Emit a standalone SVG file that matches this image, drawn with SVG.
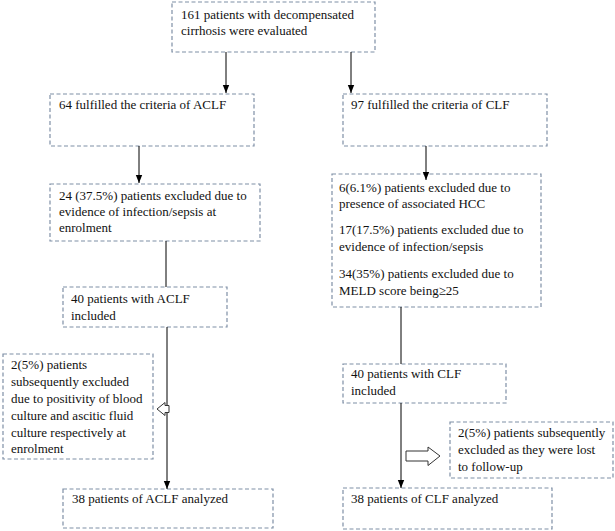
<svg xmlns="http://www.w3.org/2000/svg" width="615" height="531" viewBox="0 0 615 531">
<defs>
<marker id="ah" viewBox="0 0 8 8" refX="8" refY="4" markerWidth="8" markerHeight="8" markerUnits="userSpaceOnUse" orient="auto">
<path d="M0,0.8 L8,4 L0,7.2 Z" fill="#000"/>
</marker>
<style>
.box{fill:#fff;stroke:#7f8fa6;stroke-width:1.2;stroke-dasharray:4 2.5}
text{font-family:'Liberation Serif','DejaVu Serif','Times New Roman',serif;font-size:13px;fill:#111}
.ln{stroke:#000;stroke-width:1;fill:none}
.hol{fill:#fff;stroke:#333;stroke-width:1}
</style>
</defs>
<rect width="615" height="531" fill="#fff"/>
<g id="n1">
<rect class="box" x="172" y="2" width="203" height="50"/>
<text x="181" y="19">161 patients with decompensated</text>
<text x="181" y="35">cirrhosis were evaluated</text>
</g>
<g id="n2">
<rect class="box" x="50" y="94" width="204" height="52"/>
<text x="59" y="109">64 fulfilled the criteria of ACLF</text>
</g>
<g id="n3">
<rect class="box" x="343" y="94" width="204" height="52"/>
<text x="351" y="109">97 fulfilled the criteria of CLF</text>
</g>
<g id="n4">
<rect class="box" x="50" y="184" width="210" height="57"/>
<text x="59" y="200">24 (37.5%) patients excluded due to</text>
<text x="59" y="216">evidence of infection/sepsis at</text>
<text x="59" y="232">enrolment</text>
</g>
<g id="n5">
<rect class="box" x="332" y="174" width="209" height="133"/>
<text x="339" y="192">6(6.1%) patients excluded due to</text>
<text x="339" y="208">presence of associated HCC</text>
<text x="339" y="234">17(17.5%) patients excluded due to</text>
<text x="339" y="251">evidence of infection/sepsis</text>
<text x="339" y="278">34(35%) patients excluded due to</text>
<text x="339" y="295">MELD score being≥25</text>
</g>
<g id="n6">
<rect class="box" x="63" y="287" width="164" height="40"/>
<text x="71" y="303">40 patients with ACLF</text>
<text x="71" y="320">included</text>
</g>
<g id="n7">
<rect class="box" x="3" y="354" width="150" height="105"/>
<text x="11" y="369">2(5%) patients</text>
<text x="11" y="386">subsequently excluded</text>
<text x="11" y="403">due to positivity of blood</text>
<text x="11" y="420">culture and ascitic fluid</text>
<text x="11" y="437">culture respectively at</text>
<text x="11" y="453">enrolment</text>
</g>
<g id="n8">
<rect class="box" x="343" y="364" width="163" height="39"/>
<text x="351" y="378">40 patients with CLF</text>
<text x="351" y="395">included</text>
</g>
<g id="n9">
<rect class="box" x="450" y="422" width="163" height="56"/>
<text x="458" y="437">2(5%) patients subsequently</text>
<text x="458" y="454">excluded as they were lost</text>
<text x="458" y="471">to follow-up</text>
</g>
<g id="n10">
<rect class="box" x="63" y="489" width="210" height="39"/>
<text x="72" y="503">38 patients of ACLF analyzed</text>
</g>
<g id="n11">
<rect class="box" x="343" y="488" width="209" height="41"/>
<text x="351" y="503">38 patients of CLF analyzed</text>
</g>
<g id="connectors">
<line class="ln" x1="226" y1="52" x2="226" y2="93" marker-end="url(#ah)"/>
<line class="ln" x1="351" y1="52" x2="351" y2="93" marker-end="url(#ah)"/>
<line class="ln" x1="139" y1="146" x2="139" y2="183" marker-end="url(#ah)"/>
<line class="ln" x1="426" y1="146" x2="426" y2="180" marker-end="url(#ah)"/>
<line class="ln" x1="166" y1="241" x2="166" y2="287"/>
<line class="ln" x1="401" y1="307" x2="401" y2="364"/>
<line class="ln" x1="167" y1="327" x2="167" y2="489" marker-end="url(#ah)"/>
<line class="ln" x1="401" y1="403" x2="401" y2="488" marker-end="url(#ah)"/>
<path class="hol" d="M157,409 L165,402.5 L165,405.5 L169,405.5 L169,412.5 L165,412.5 L165,415.5 Z"/>
<path class="hol" d="M406,451 L428,451 L428,447 L440,456 L428,465.5 L428,461 L406,461 Z"/>
</g>
</svg>
